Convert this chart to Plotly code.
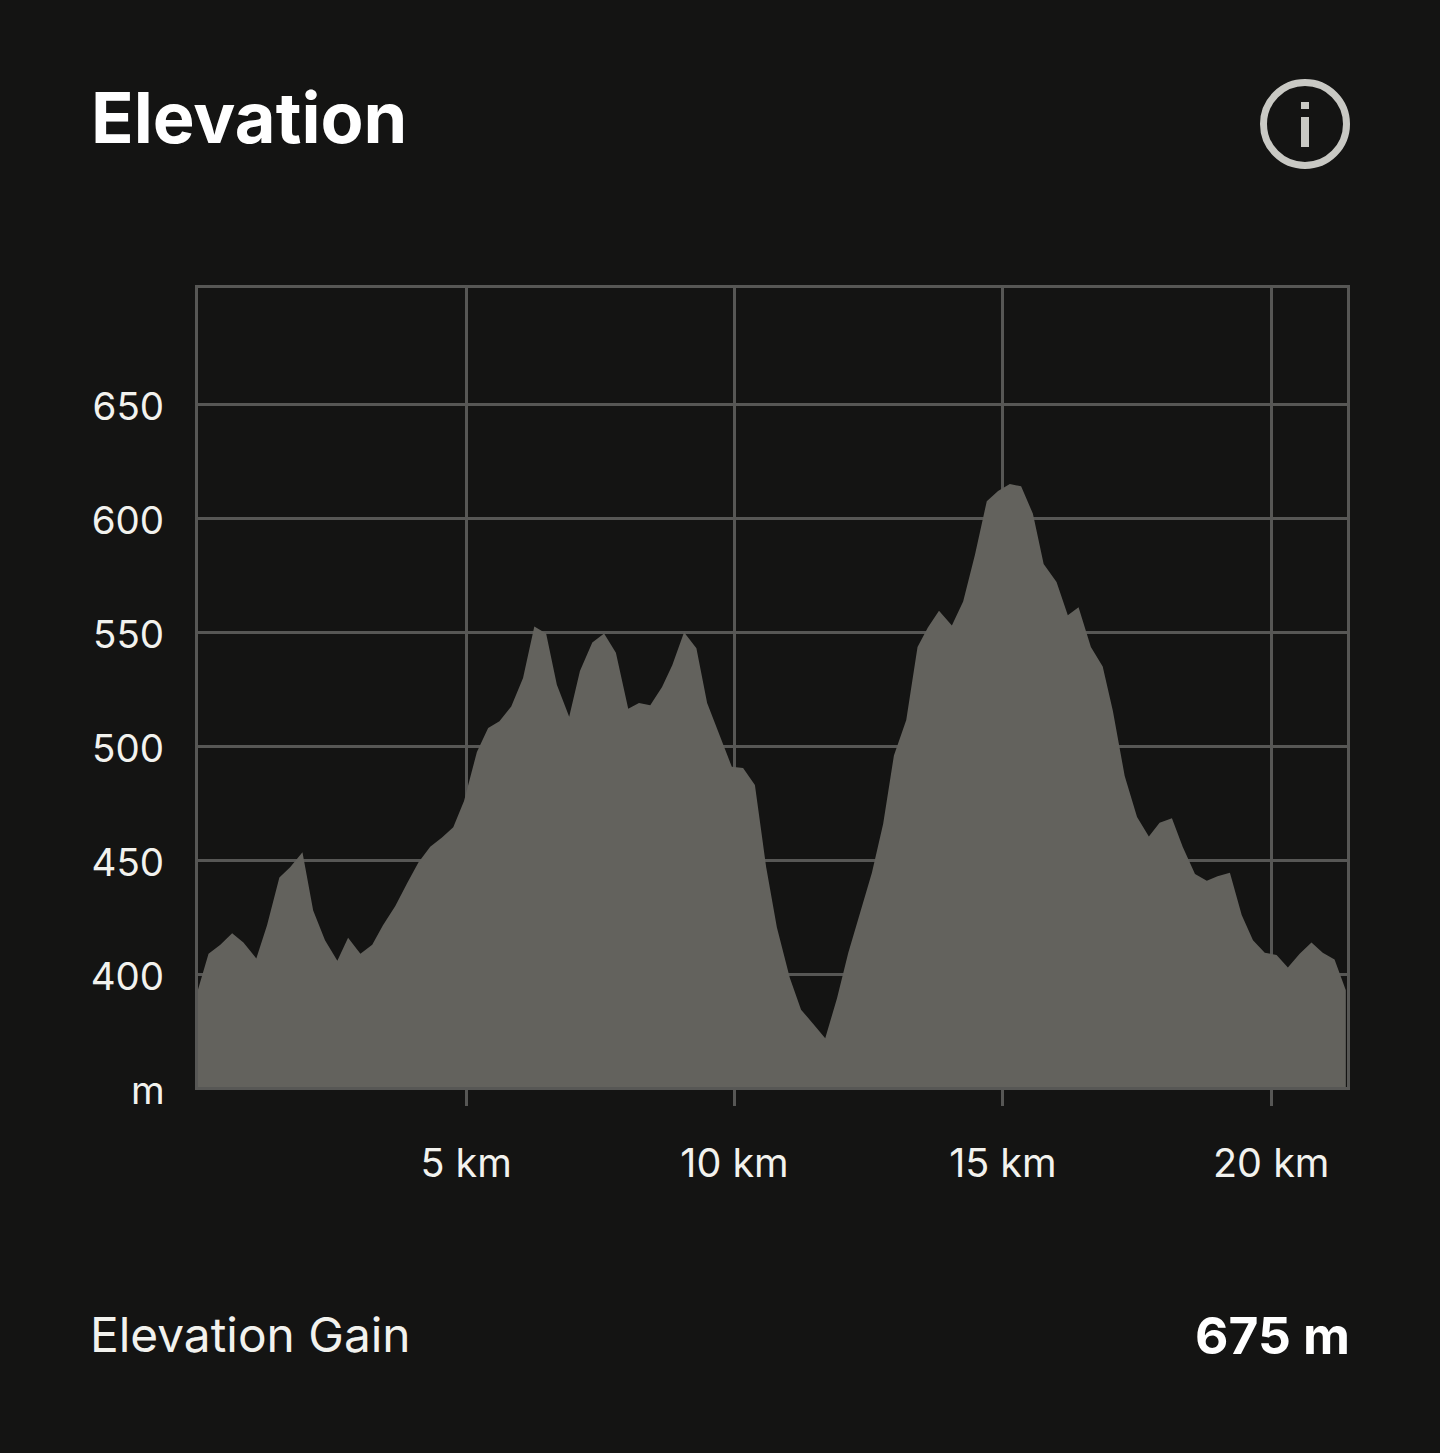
import plotly.graph_objects as go

# Route profile: distance along the route (km) and elevation (m)
distance_km = [
    0.0, 0.20, 0.42, 0.64, 0.85, 1.09, 1.29, 1.52, 1.72, 1.95,
    2.15, 2.37, 2.60, 2.80, 3.03, 3.25, 3.45, 3.68, 3.90, 4.11,
    4.33, 4.55, 4.76, 4.96, 5.20, 5.41, 5.62, 5.84, 6.06, 6.27,
    6.49, 6.69, 6.92, 7.12, 7.35, 7.57, 7.79, 8.02, 8.22, 8.43,
    8.65, 8.84, 9.06, 9.29, 9.49, 9.71, 9.95, 10.16, 10.38, 10.59,
    10.79, 11.03, 11.24, 11.46, 11.69, 11.91, 12.12, 12.34, 12.56, 12.77,
    12.97, 13.20, 13.41, 13.60, 13.81, 14.05, 14.26, 14.48, 14.70, 14.91,
    15.13, 15.34, 15.56, 15.76, 16.00, 16.21, 16.41, 16.64, 16.86, 17.05,
    17.27, 17.50, 17.72, 17.92, 18.15, 18.35, 18.58, 18.80, 19.00, 19.23,
    19.45, 19.66, 19.88, 20.10, 20.31, 20.53, 20.75, 20.96, 21.18, 21.39,
]
elevation_m = [
    393, 409, 413, 418, 414, 407, 421.5, 442.5, 447, 453.5,
    428, 415, 406, 416, 409, 413, 421.5, 430, 440, 449,
    456, 460, 464.5, 476, 497.5, 508, 511, 517.5, 530, 552.5,
    549.5, 527, 513, 533, 545.5, 549.5, 541, 516.5, 519, 518,
    526, 535.5, 550, 543, 519, 506, 491, 490.5, 483, 447,
    420.5, 398.5, 384.5, 378.5, 372, 389.5, 409.5, 427, 444.5, 466,
    496, 511.5, 543.5, 552, 559.5, 553, 563.5, 584, 607.5, 612,
    615, 614, 602, 580, 572, 557.5, 561, 543.5, 535, 515.5,
    487, 469, 460.5, 466.5, 468.5, 456, 444, 441, 443, 444.5,
    426, 415, 409.5, 408.5, 403, 409, 414, 409.5, 406.5, 393,
]

x_ticks = [5, 10, 15, 20]
x_labels = ["5 km", "10 km", "15 km", "20 km"]
y_ticks = [400, 450, 500, 550, 600, 650]
y_labels = ["400", "450", "500", "550", "600", "650"]

W, H = 1440, 1453
BG = "#141413"
GRID = "#575755"
AREA = "#63625d"
TEXT = "#f2f2ee"
ICON = "#c9c9c4"
FONT = "Inter"


def px(x):
    return x / W


def py(y):
    return 1 - y / H


fig = go.Figure(
    go.Scatter(
        x=distance_km,
        y=elevation_m,
        mode="lines",
        line=dict(width=0),
        fill="tozeroy",
        fillcolor=AREA,
        hoverinfo="skip",
    )
)

axis_common = dict(
    automargin=False,
    showgrid=True,
    gridcolor=GRID,
    gridwidth=3,
    showline=True,
    linecolor=GRID,
    linewidth=3,
    mirror=True,
    zeroline=False,
    tickcolor=GRID,
    tickwidth=3,
)

fig.update_layout(
    width=W,
    height=H,
    margin=dict(l=0, r=0, t=0, b=0),
    paper_bgcolor=BG,
    plot_bgcolor=BG,
    showlegend=False,
    xaxis=dict(
        axis_common,
        domain=[px(197.8), px(1346.9)],
        range=[0, 21.41],
        tickmode="array",
        tickvals=x_ticks,
        ticktext=x_labels,
        ticks="outside",
        ticklen=16,
        ticklabelstandoff=24,
        tickfont=dict(family=FONT, size=39.5, color=TEXT),
    ),
    yaxis=dict(
        axis_common,
        domain=[py(1087), py(287.5)],
        range=[350.6, 701.2],
        tickmode="array",
        tickvals=y_ticks,
        ticktext=y_labels,
        ticks="",
        ticklabelstandoff=23,
        ticklabelshift=2,
        tickfont=dict(family=FONT, size=38.5, color=TEXT),
    ),
    annotations=[
        dict(
            text="<b>Elevation</b>", x=px(89), y=py(118), xref="paper", yref="paper",
            xanchor="left", yanchor="middle", showarrow=False,
            font=dict(family=FONT, size=70.3, color="#ffffff"),
        ),
        dict(
            text="m", x=px(167), y=py(1090), xref="paper", yref="paper",
            xanchor="right", yanchor="middle", showarrow=False,
            font=dict(family=FONT, size=38.5, color=TEXT),
        ),
        dict(
            text="Elevation Gain", x=px(88), y=py(1335), xref="paper", yref="paper",
            xanchor="left", yanchor="middle", showarrow=False,
            font=dict(family=FONT, size=47.8, color=TEXT),
        ),
        dict(
            text="<b>675 m</b>", x=px(1352), y=py(1334.5), xref="paper", yref="paper",
            xanchor="right", yanchor="middle", showarrow=False,
            font=dict(family=FONT, size=51.5, color="#ffffff"),
        ),
    ],
    shapes=[
        # information icon: ring, dot and stem
        dict(
            type="circle", xref="paper", yref="paper",
            x0=px(1263.5), x1=px(1346.5), y0=py(165.5), y1=py(82.5),
            line=dict(color=ICON, width=7),
        ),
        dict(
            type="rect", xref="paper", yref="paper",
            x0=px(1301), x1=px(1309), y0=py(109), y1=py(102),
            fillcolor=ICON, line=dict(width=0),
        ),
        dict(
            type="rect", xref="paper", yref="paper",
            x0=px(1301), x1=px(1309), y0=py(147), y1=py(117),
            fillcolor=ICON, line=dict(width=0),
        ),
    ],
)

fig.write_html("out.html")
